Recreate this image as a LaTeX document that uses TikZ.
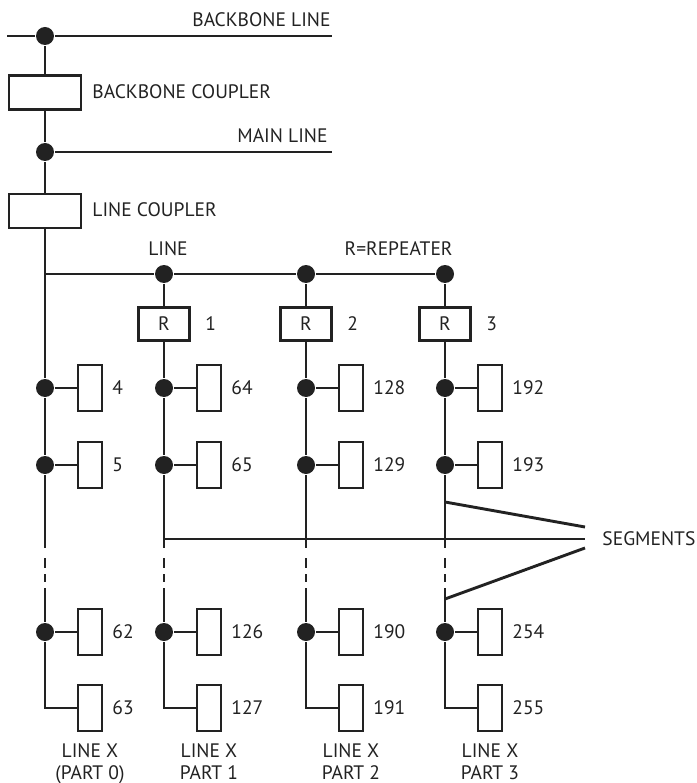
\documentclass[tikz,border=0pt]{standalone}
\usepackage{fontspec}
\setmainfont{PT Sans}
\usetikzlibrary{positioning}
\definecolor{ink}{HTML}{222222}

\begin{document}
\begin{tikzpicture}[x=1pt,y=-1pt,line width=2.9pt,draw=ink,
  every node/.style={font=\fontsize{19.5}{22}\selectfont,text=ink,inner sep=0pt},
  junction/.style={circle,fill=ink,minimum size=18pt},
  coupler/.style={draw,minimum width=72pt,minimum height=34pt},
  repeater/.style={draw,minimum width=51pt,minimum height=33pt},
  device/.style={draw,minimum width=24pt,minimum height=46pt},
  gap/.style={dash pattern=on 10pt off 6pt}]
  \useasboundingbox (0,0) rectangle (696,783);

  % backbone and main line
  \coordinate (bbl) at (7,36);
  \coordinate (bbr) at (332,36);
  \node[junction] (bbj) at (45,36) {};
  \draw (bbl) -- (bbj) -- (bbr);
  \node[anchor=base east] (bbtxt) at (332,27) {BACKBONE LINE};
  \node[coupler] (bbc) at (45,92.5) {};
  \node[anchor=base west] (bbctxt) at (91,99) {BACKBONE COUPLER};
  \node[junction] (mlj) at (45,152) {};
  \coordinate (mlr) at (332,152);
  \draw (mlj) -- (mlr);
  \node[anchor=base east] (mltxt) at (329,143) {MAIN LINE};
  \node[coupler] (lc) at (45,211) {};
  \node[anchor=base west] (lctxt) at (91,217) {LINE COUPLER};
  \draw (bbj) -- (bbc) -- (mlj) -- (lc);

  % line with repeaters
  \coordinate (lcorner) at (45,274);
  \node[anchor=base] (linetxt) at (168,256) {LINE};
  \node[anchor=base east] (reptxt) at (454,256) {R=REPEATER};
  \foreach \c/\x in {1/164,2/306,3/445}{
    \node[junction] (j\c) at (\x,274) {};
    \node[repeater] (r\c) at (\x,324) {R};
    \node[anchor=base west] (rn\c) at (\x+40,330) {\c};
    \draw (j\c) -- (r\c);
  }
  \draw (lcorner) -- (j1) -- (j2) -- (j3);

  % devices
  \foreach \c/\x/\ua/\ub/\uc/\ud/\part in
      {0/45/4/5/62/63/{(PART 0)},1/164/64/65/126/127/{PART 1},
       2/306/128/129/190/191/{PART 2},3/445/192/193/254/255/{PART 3}}{
    \node[junction] (d-\c-a) at (\x,388) {};
    \node[junction] (d-\c-b) at (\x,465) {};
    \node[junction] (d-\c-c) at (\x,632) {};
    \coordinate (d-\c-d) at (\x,708);
    \coordinate (g-\c-top) at (\x,548);
    \coordinate (g-\c-bot) at (\x,588);
    \node[device] (u-\c-a) at (\x+45,388) {};
    \node[device] (u-\c-b) at (\x+45,465) {};
    \node[device] (u-\c-c) at (\x+45,632) {};
    \node[device] (u-\c-d) at (\x+45,708) {};
    \node[anchor=base west] (n-\c-a) at (\x+66,394) {\ua};
    \node[anchor=base west] (n-\c-b) at (\x+66,471) {\ub};
    \node[anchor=base west] (n-\c-c) at (\x+66,638) {\uc};
    \node[anchor=base west] (n-\c-d) at (\x+66,714) {\ud};
    \node[anchor=base] (lx-\c) at (\x+45,757) {LINE X};
    \node[anchor=base] (px-\c) at (\x+45,779) {\part};
    \draw (d-\c-a) -- (u-\c-a);
    \draw (d-\c-b) -- (u-\c-b);
    \draw (d-\c-c) -- (u-\c-c);
    \draw (d-\c-a) -- (d-\c-b) -- (g-\c-top);
    \draw[gap] (\x,558) -- (\x,582);
    \draw (g-\c-bot) -- (d-\c-c) -- (d-\c-d) -- (u-\c-d);
  }
  \draw (lc) -- (d-0-a);
  \foreach \c in {1,2,3}
    \draw (r\c) -- (d-\c-a);

  % segments
  \coordinate (sg-a) at (445,502);
  \coordinate (sg-b) at (164,539);
  \coordinate (sg-c) at (445,599);
  \node[anchor=base west] (segtxt) at (601,545) {SEGMENTS};
  \draw (sg-a) -- (585,527);
  \draw (sg-b) -- (585,539);
  \draw (sg-c) -- (585,548);
\end{tikzpicture}
\end{document}
